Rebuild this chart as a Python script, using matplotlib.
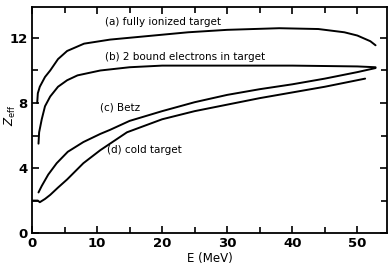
import matplotlib.pyplot as plt
from matplotlib.ticker import MultipleLocator

# (a) fully ionized target
e_a = [0.8, 0.9, 1.2, 2.0, 2.8, 4.0, 5.4, 8.0, 12, 16, 20, 24, 30, 38, 44, 48, 50, 52, 52.8]
z_a = [8.0, 8.6, 9.0, 9.6, 10.0, 10.7, 11.2, 11.65, 11.9, 12.05, 12.2, 12.35, 12.5, 12.6, 12.55, 12.35, 12.15, 11.8, 11.55]

# (b) 2 bound electrons in target
e_b = [1.0, 1.1, 1.5, 2.0, 2.8, 4.0, 5.4, 7.0, 10.5, 15, 20, 30, 40, 50, 52.8]
z_b = [5.5, 6.2, 7.0, 7.8, 8.4, 9.0, 9.4, 9.7, 10.0, 10.2, 10.3, 10.3, 10.3, 10.25, 10.2]

# (c) Betz
e_c = [1.0, 1.5, 2.5, 3.8, 5.5, 7.9, 10.5, 12, 15, 20, 25, 30, 35, 40, 45, 50, 52.8]
z_c = [2.5, 2.9, 3.6, 4.3, 5.0, 5.6, 6.1, 6.35, 6.9, 7.5, 8.05, 8.5, 8.85, 9.15, 9.5, 9.9, 10.15]

# (d) cold target
e_d = [0, 0.9, 1.2, 2.0, 2.8, 4.0, 5.4, 7.9, 10.5, 14.6, 20, 25, 30, 35, 40, 45, 51.2]
z_d = [2.0, 2.0, 1.9, 2.1, 2.35, 2.8, 3.3, 4.3, 5.1, 6.2, 7.0, 7.5, 7.9, 8.3, 8.65, 9.0, 9.5]

fig = plt.figure(figsize=(3.9, 2.72), dpi=100)
ax = fig.add_axes([0.082, 0.143, 0.911, 0.831])

for e, z in [(e_a, z_a), (e_b, z_b), (e_c, z_c), (e_d, z_d)]:
    ax.plot(e, z, color='black', lw=1.4, solid_capstyle='round')

ax.text(11.2, 13.0, '(a) fully ionized target', fontsize=7.5, va='center')
ax.text(11.2, 10.8, '(b) 2 bound electrons in target', fontsize=7.5, va='center')
ax.text(10.5, 7.7, '(c) Betz', fontsize=7.5, va='center')
ax.text(11.5, 5.1, '(d) cold target', fontsize=7.5, va='center')

ax.set_xlim(0, 54.6)
ax.set_ylim(0, 13.9)
ax.xaxis.set_major_locator(MultipleLocator(10))
ax.xaxis.set_minor_locator(MultipleLocator(5))
ax.yaxis.set_major_locator(MultipleLocator(4))
ax.yaxis.set_minor_locator(MultipleLocator(2))
ax.tick_params(which='both', direction='in', top=True, right=True, width=1.2, labelsize=9.5, pad=3)
ax.tick_params(which='major', length=5)
ax.tick_params(which='minor', length=4)
for lab in ax.get_xticklabels() + ax.get_yticklabels():
    lab.set_fontweight('bold')
for s in ax.spines.values():
    s.set_linewidth(1.3)

ax.set_xlabel('E (MeV)', fontsize=8.5, labelpad=1)
ax.set_ylabel(r'$Z_{\rm eff}$', fontsize=8.5)
ax.yaxis.set_label_coords(-0.04, 0.52)

fig.savefig('out.png', dpi=100)
